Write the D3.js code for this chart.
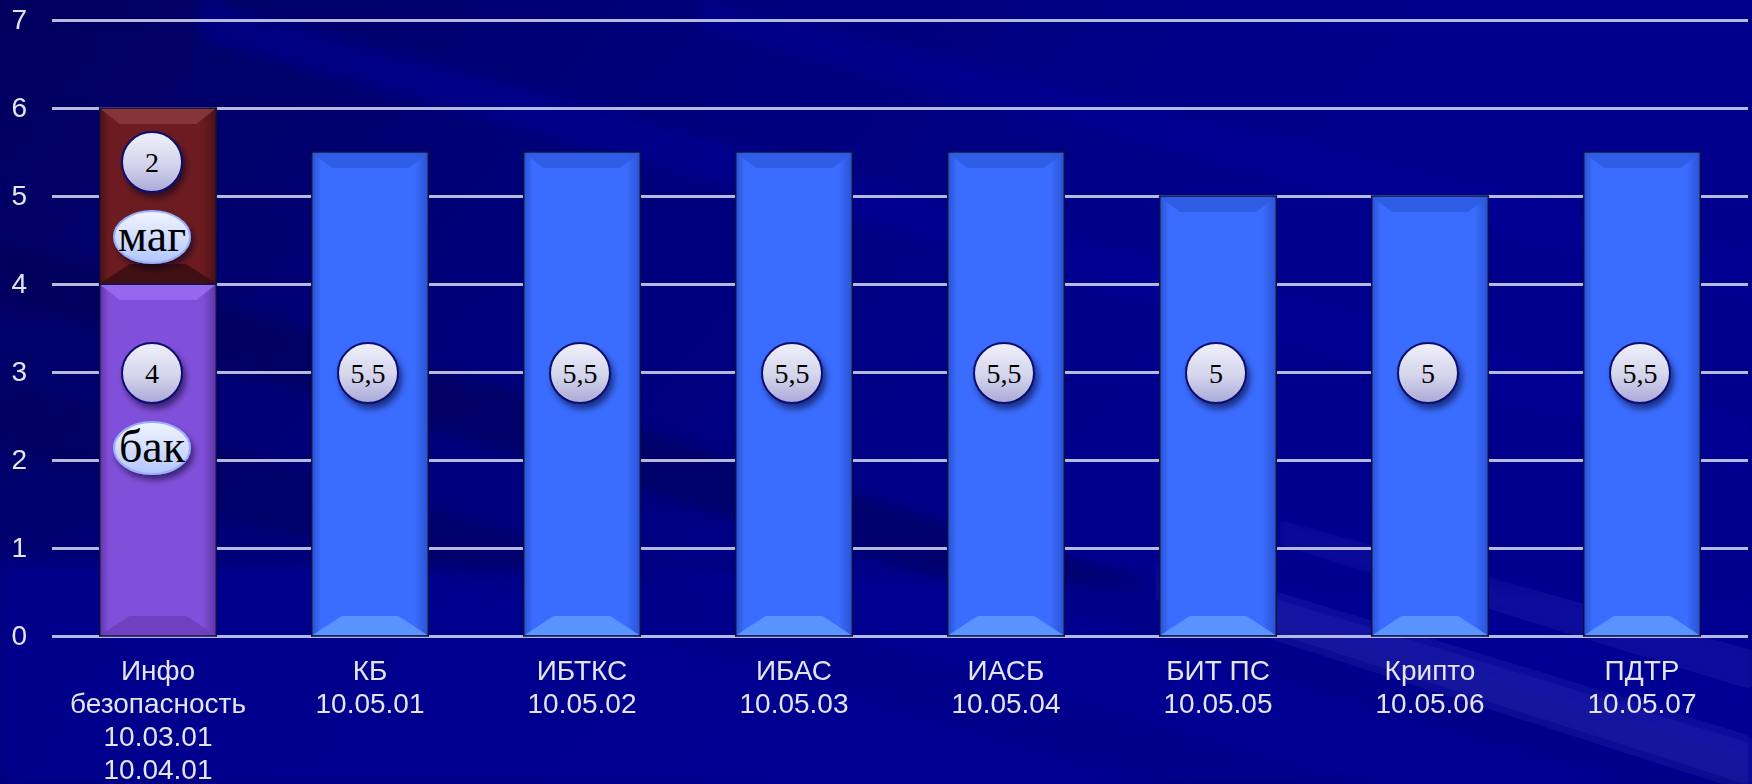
<!DOCTYPE html>
<html>
<head>
<meta charset="utf-8">
<script src="https://cdn.jsdelivr.net/npm/d3@7"></script>
<style>
  html, body { margin: 0; padding: 0; background: #000086; }
  svg { display: block; }
</style>
</head>
<body>
<svg class="svg1" width="1752" height="784"></svg>
<script>
// chart data
var categories = [
    ["Инфо", "безопасность", "10.03.01", "10.04.01"],
    ["КБ", "10.05.01"],
    ["ИБТКС", "10.05.02"],
    ["ИБАС", "10.05.03"],
    ["ИАСБ", "10.05.04"],
    ["БИТ ПС", "10.05.05"],
    ["Крипто", "10.05.06"],
    ["ПДТР", "10.05.07"]
];
var bakValues  = [4, 0, 0, 0, 0, 0, 0, 0];
var magValues  = [2, 0, 0, 0, 0, 0, 0, 0];
var specValues = [0, 5.5, 5.5, 5.5, 5.5, 5, 5, 5.5];
var seriesKeys  = ["bak", "mag", "spec"];
var seriesNames = { bak: "бак", mag: "маг", spec: null };
var yTicks = [0, 1, 2, 3, 4, 5, 6, 7];

var WIDTH = 1752, HEIGHT = 784;
var LEFT = 52, RIGHT = 1748, TOP = 20, BOTTOM = 636;

var colors = {
    bak:  { main: "#8150da", dark: "#5f35a8", top: "#9a6cf0", bottom: "#6a3fbd" },
    mag:  { main: "#6c1c21", dark: "#4a1014", top: "#8a3a3e", bottom: "#3c0e12" },
    spec: { main: "#3a6cff", dark: "#2a52d0", top: "#2f5ae0", bottom: "#5c98ff" }
};

var rows = categories.map(function(c, i) {
    return { cat: i, bak: bakValues[i], mag: magValues[i], spec: specValues[i] };
});

var svg = d3.select(".svg1");
var defs = svg.append("defs");

// background
var bg = defs.append("linearGradient").attr("id", "bgGrad")
    .attr("gradientUnits", "userSpaceOnUse")
    .attr("x1", 0).attr("y1", 0).attr("x2", 900).attr("y2", 700);
bg.append("stop").attr("offset", "0%").attr("stop-color", "#00005e");
bg.append("stop").attr("offset", "45%").attr("stop-color", "#000078");
bg.append("stop").attr("offset", "100%").attr("stop-color", "#00008c");
svg.append("rect").attr("width", WIDTH).attr("height", HEIGHT).attr("fill", "url(#bgGrad)");

// soft diagonal bands
var stripes = [
    { p: [[0, 240], [1752, 760], [1752, 820], [0, 300]], c: "#000050", o: 0.45 },
    { p: [[0, 380], [1752, 900], [1752, 960], [0, 450]], c: "#000050", o: 0.35 },
    { p: [[200, 0], [1752, 420], [1752, 470], [200, 40]], c: "#00009a", o: 0.5 },
    { p: [[700, 0], [1752, 250], [1752, 300], [700, 30]], c: "#00009a", o: 0.45 },
    { p: [[0, 560], [1752, 600], [1752, 784], [0, 784]], c: "#000094", o: 0.7 },
    { p: [[1160, 560], [1752, 740], [1752, 790], [1160, 600]], c: "#2a2ab8", o: 0.45 },
    { p: [[1280, 520], [1752, 650], [1752, 690], [1280, 545]], c: "#1c1cae", o: 0.4 }
];
var bf = defs.append("filter").attr("id", "bandBlur")
    .attr("x", "-10%").attr("y", "-10%").attr("width", "120%").attr("height", "120%");
bf.append("feGaussianBlur").attr("stdDeviation", 6);
svg.append("g").attr("filter", "url(#bandBlur)")
    .selectAll(".stripe").data(stripes).enter().append("polygon")
    .attr("points", function(d) { return d.p.join(" "); })
    .attr("fill", function(d) { return d.c; })
    .attr("opacity", function(d) { return d.o; });

// filters and gradients
var sh = defs.append("filter").attr("id", "shadow")
    .attr("x", "-30%").attr("y", "-30%").attr("width", "170%").attr("height", "170%");
sh.append("feDropShadow").attr("dx", 3).attr("dy", 5).attr("stdDeviation", 3)
    .attr("flood-color", "#000020").attr("flood-opacity", 0.55);

var glow = defs.append("filter").attr("id", "soft");
glow.append("feGaussianBlur").attr("stdDeviation", 0.45);

var cg = defs.append("linearGradient").attr("id", "circGrad")
    .attr("x1", 0).attr("y1", 0).attr("x2", 0).attr("y2", 1);
cg.append("stop").attr("offset", "0%").attr("stop-color", "#f0f0fa");
cg.append("stop").attr("offset", "55%").attr("stop-color", "#d4d4ec");
cg.append("stop").attr("offset", "100%").attr("stop-color", "#a9a9d8");

var eg = defs.append("linearGradient").attr("id", "ellGrad")
    .attr("x1", 0).attr("y1", 0).attr("x2", 0).attr("y2", 1);
eg.append("stop").attr("offset", "0%").attr("stop-color", "#f2f5ff");
eg.append("stop").attr("offset", "100%").attr("stop-color", "#b3c6ff");

seriesKeys.forEach(function(k) {
    var g = defs.append("linearGradient").attr("id", "side_" + k)
        .attr("x1", 0).attr("y1", 0).attr("x2", 1).attr("y2", 0);
    g.append("stop").attr("offset", "0%").attr("stop-color", colors[k].dark);
    g.append("stop").attr("offset", "8%").attr("stop-color", colors[k].main);
    g.append("stop").attr("offset", "88%").attr("stop-color", colors[k].main);
    g.append("stop").attr("offset", "100%").attr("stop-color", colors[k].dark);
});

// scales
var scaleX = d3.scaleBand()
    .domain(d3.range(categories.length))
    .range([LEFT, RIGHT])
    .paddingInner(0.45)
    .paddingOuter(0.225);

var scaleY = d3.scaleLinear().domain([0, 7]).range([BOTTOM, TOP]);

// grid + y axis
var yAxis = d3.axisLeft(scaleY)
    .tickValues(yTicks)
    .tickSize(-(RIGHT - LEFT))
    .tickPadding(25)
    .tickFormat(d3.format("d"));

var gy = svg.append("g")
    .attr("transform", "translate(" + LEFT + ",0)")
    .call(yAxis);
gy.select(".domain").remove();
gy.selectAll("line")
    .attr("stroke", "#b8b8dc")
    .attr("stroke-width", 3);
gy.selectAll("text")
    .attr("fill", "#e4e4ee")
    .style("font-family", "Liberation Sans, Arial, sans-serif")
    .style("font-size", "28px")
    .attr("filter", "url(#soft)");

// bars
var stacked = d3.stack().keys(seriesKeys)(rows);
var bw = scaleX.bandwidth();

var segs = [];
stacked.forEach(function(layer) {
    layer.forEach(function(d, i) {
        if (d[1] - d[0] > 0)
            segs.push({ key: layer.key, cat: i, y0: d[0], y1: d[1], value: d[1] - d[0] });
    });
});

var bars = svg.append("g").selectAll(".seg")
    .data(segs).enter().append("g").attr("class", "seg");

bars.append("rect")
    .attr("x", function(d) { return scaleX(d.cat); })
    .attr("y", function(d) { return scaleY(d.y1); })
    .attr("width", bw)
    .attr("height", function(d) { return scaleY(d.y0) - scaleY(d.y1); })
    .attr("fill", function(d) { return "url(#side_" + d.key + ")"; })
    .attr("stroke", "#0c1040")
    .attr("stroke-width", 1.5);

// top bevel
bars.append("polygon")
    .attr("points", function(d) {
        var x = scaleX(d.cat), y = scaleY(d.y1), b = 12;
        return [[x + 1, y + 1], [x + bw - 1, y + 1], [x + bw - b - 8, y + b + 4], [x + b + 8, y + b + 4]].join(" ");
    })
    .attr("fill", function(d) { return colors[d.key].top; })
    .attr("opacity", 0.85);

// bottom bevel
bars.append("polygon")
    .attr("points", function(d) {
        var x = scaleX(d.cat), y = scaleY(d.y0), b = 16;
        return [[x + 1, y - 1], [x + bw - 1, y - 1], [x + bw - b - 14, y - b - 4], [x + b + 14, y - b - 4]].join(" ");
    })
    .attr("fill", function(d) { return colors[d.key].bottom; })
    .attr("opacity", 0.9);

// value labels (circles) and series names (ellipses)
var fmt = d3.formatLocale({ decimal: ",", thousands: " ", grouping: [3], currency: ["", ""] }).format("~f");

function circleY(d) {
    // stacked top segment gets its badge near the top, the rest sit at the 3 line
    return d.key === "mag" ? scaleY(d.y1) + 54 : scaleY(3) + 1;
}

var labels = svg.append("g").selectAll(".lbl")
    .data(segs).enter().append("g")
    .attr("transform", function(d) {
        return "translate(" + (scaleX(d.cat) + bw / 2 - (d.key === "spec" ? 2 : 6)) + "," + circleY(d) + ")";
    });

labels.append("circle")
    .attr("r", 30)
    .attr("fill", "url(#circGrad)")
    .attr("stroke", "#0a0a70")
    .attr("stroke-width", 2)
    .attr("filter", "url(#shadow)");

labels.append("text")
    .attr("text-anchor", "middle")
    .attr("dy", "0.35em")
    .style("font-family", "Liberation Serif, Times New Roman, serif")
    .style("font-size", "28px")
    .attr("fill", "#000")
    .text(function(d) { return fmt(d.value); });

var named = labels.filter(function(d) { return seriesNames[d.key]; })
    .append("g").attr("transform", "translate(0,75)");

named.append("ellipse")
    .attr("rx", 38).attr("ry", 26)
    .attr("fill", "url(#ellGrad)")
    .attr("stroke", "#9aaeff")
    .attr("stroke-width", 2)
    .attr("filter", "url(#shadow)");

named.append("text")
    .attr("text-anchor", "middle")
    .attr("dy", "0.3em")
    .style("font-family", "Liberation Serif, Times New Roman, serif")
    .style("font-size", "46px")
    .attr("fill", "#000")
    .text(function(d) { return seriesNames[d.key]; });

// x axis labels
var xAxis = d3.axisBottom(scaleX).tickSize(0).tickFormat("");
svg.append("g").attr("transform", "translate(0," + BOTTOM + ")").call(xAxis)
    .select(".domain").remove();

var xl = svg.append("g").selectAll(".xl")
    .data(categories).enter().append("text")
    .attr("text-anchor", "middle")
    .attr("x", function(d, i) { return scaleX(i) + bw / 2; })
    .attr("y", BOTTOM + 44)
    .attr("fill", "#e4e4ee")
    .attr("filter", "url(#soft)")
    .style("font-family", "Liberation Sans, Arial, sans-serif")
    .style("font-size", "28px");

xl.selectAll("tspan")
    .data(function(d) { return d; }).enter().append("tspan")
    .attr("x", function() { return this.parentNode.getAttribute("x"); })
    .attr("dy", function(d, i) { return i === 0 ? 0 : 33; })
    .text(function(d) { return d; });
</script>
</body>
</html>
